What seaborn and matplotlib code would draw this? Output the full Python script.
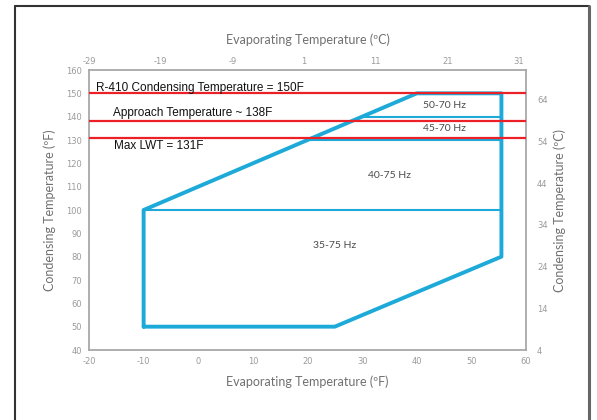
import matplotlib
matplotlib.use("Agg")
import matplotlib.pyplot as plt
from matplotlib.lines import Line2D
import seaborn as sns
import pandas as pd

# ---- data ----
envelope_x = [-10, 25, 55.5, 55.5, 40, -10, -10]
envelope_y = [50, 50, 80, 150, 150, 100, 50]

inner_levels = [100, 130, 140]
inner_x_start = [-10, 20, 30]
inner_x_end = [55.5, 55.5, 55.5]

limit_values = [150, 138, 131]
limit_labels = ["R-410 Condensing Temperature = 150F",
                "Approach Temperature ~ 138F",
                "Max LWT = 131F"]

zone_labels = ["50-70 Hz", "45-70 Hz", "40-75 Hz", "35-75 Hz"]
zone_x = [45, 45, 35, 25]
zone_y = [145, 135, 115, 85]

x_ticks_f = [-20, -10, 0, 10, 20, 30, 40, 50, 60]
y_ticks_f = [40, 50, 60, 70, 80, 90, 100, 110, 120, 130, 140, 150, 160]
x_ticks_c = [-29, -19, -9, 1, 11, 21, 31]
y_ticks_c = [4, 14, 24, 34, 44, 54, 64]

sns.set_style("white")
plt.rcParams["axes.unicode_minus"] = False

W, H = 597, 420
fig = plt.figure(figsize=(W / 100, H / 100), dpi=100)
L, R, T, B = 89, 526, 70, 350
ax = fig.add_axes([L / W, 1 - B / H, (R - L) / W, (B - T) / H])

BLUE = "#1DAAD9"
RED = "#EC2128"
GRID = "#A8A8A8"
TICKC = "#9A9A9A"
LABC = "#707070"

env = pd.DataFrame({"x": envelope_x, "y": envelope_y, "i": range(len(envelope_x))})
sns.lineplot(data=env, x="x", y="y", sort=False, estimator=None, ax=ax,
             color=BLUE, linewidth=2.8, zorder=3)
for lev, xs, xe in zip(inner_levels, inner_x_start, inner_x_end):
    sns.lineplot(x=[xs, xe], y=[lev, lev], ax=ax, color=BLUE, linewidth=1.5,
                 estimator=None, sort=False, zorder=3)

for v in limit_values:
    ax.axhline(v, color=RED, linewidth=1.6, zorder=4)

ax.text(-18.7, 152.3, limit_labels[0], fontsize=8.5, family="Liberation Sans",
        color="#111111", va="center", ha="left", zorder=5)
ax.text(-15.6, 141.4, limit_labels[1], fontsize=8.5, family="Liberation Sans",
        color="#111111", va="center", ha="left", zorder=5)
ax.text(-15.4, 127.6, limit_labels[2], fontsize=8.5, family="Liberation Sans",
        color="#111111", va="center", ha="left", zorder=5)

for lab, zx, zy in zip(zone_labels, zone_x, zone_y):
    ax.text(zx, zy, lab, fontsize=7.5, family="Lato", color="#4A4A4A",
            ha="center", va="center", zorder=5)

ax.set_xlim(-20, 60)
ax.set_ylim(40, 160)
ax.set_xticks(x_ticks_f)
ax.set_yticks(y_ticks_f)
ax.tick_params(length=0, labelsize=6, labelcolor=TICKC, pad=5)
for lbl in ax.get_xticklabels() + ax.get_yticklabels():
    lbl.set_family("DejaVu Sans")
for s in ax.spines.values():
    s.set_visible(True)
    s.set_color(GRID)
    s.set_linewidth(1.3)
ax.set_xlabel("Evaporating Temperature (ºF)", fontsize=9, family="Lato",
              color=LABC, labelpad=7)
ax.set_ylabel("Condensing Temperature (ºF)", fontsize=9, family="Lato",
              color=LABC, labelpad=7)

axt = ax.twiny()
axt.set_xlim(-28.8, 32)
axt.set_xticks(x_ticks_c)
axt.tick_params(length=0, labelsize=6, labelcolor=TICKC, pad=3)
axt.set_xlabel("Evaporating Temperature (ºC)", fontsize=9, family="Lato",
               color=LABC, labelpad=9)
axr = ax.twinx()
axr.set_ylim(4, 71.1)
axr.set_yticks(y_ticks_c)
axr.tick_params(length=0, labelsize=6, labelcolor=TICKC, pad=8)
axr.set_ylabel("Condensing Temperature (ºC)", fontsize=9, family="Lato",
               color=LABC, labelpad=4)
for a in (axt, axr):
    for s in a.spines.values():
        s.set_visible(False)
    for lbl in a.get_xticklabels() + a.get_yticklabels():
        lbl.set_family("DejaVu Sans")

# outer page border
fig.add_artist(Line2D([15 / W, 15 / W], [0, 1 - 6 / H], color="#333333", linewidth=1.5))
fig.add_artist(Line2D([15 / W, 589 / W], [1 - 6 / H, 1 - 6 / H], color="#333333", linewidth=1.5))
fig.add_artist(Line2D([589 / W, 589 / W], [0, 1 - 6 / H], color="#666666", linewidth=2.2))

fig.savefig("out.png", dpi=100)
